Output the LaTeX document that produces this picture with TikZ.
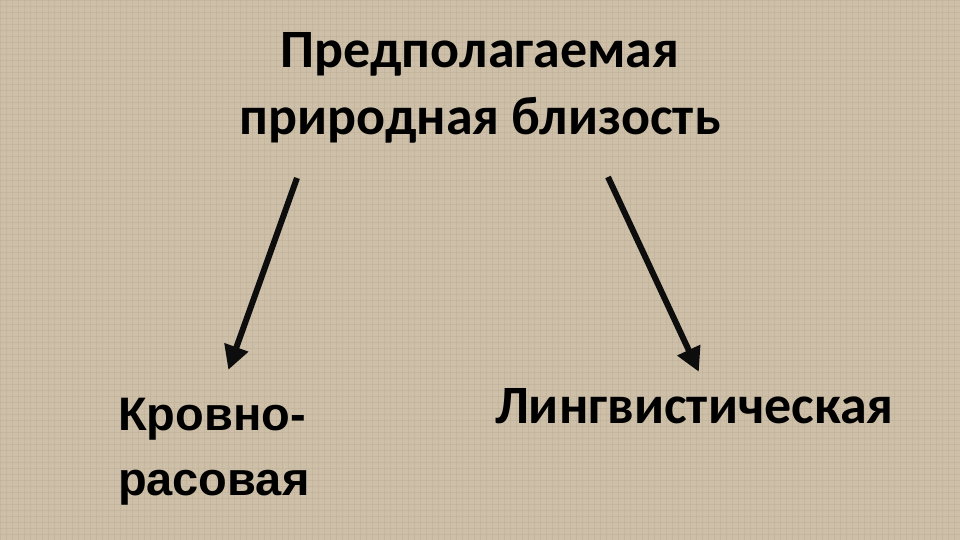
\documentclass[tikz,border=0pt]{standalone}
\usepackage{fontspec}
\setmainfont{Carlito}
\newfontfamily\arialfont{Liberation Sans}
\usetikzlibrary{arrows.meta}
\definecolor{bgbeige}{HTML}{CDBFA8}
\definecolor{gridbeige}{HTML}{BFB098}
\tikzset{
  lbl/.style={inner sep=0pt, outer sep=0pt, text=black, font=\bfseries},
  conn/.style={line width=6pt, draw=black!95,
    -{Triangle[length=24pt,width=24pt]}, shorten >=-2pt},
}
\begin{document}
\begin{tikzpicture}[x=1pt,y=-1pt]
\useasboundingbox (0,0) rectangle (960,540);
\fill[bgbeige] (0,0) rectangle (960,540);
\foreach \i in {0,6,...,960} {\draw[gridbeige, line width=0.5pt, opacity=0.5] (\i,0) -- (\i,540);}
\foreach \j in {0,6,...,540} {\draw[gridbeige, line width=0.5pt, opacity=0.5] (0,\j) -- (960,\j);}
\node[lbl, font=\bfseries\fontsize{54}{67}\selectfont, align=center, anchor=base] (title) at (480,135)
  {Предполагаемая\\природная близость};
\node[lbl, font=\arialfont\bfseries\fontsize{47}{65}\selectfont, align=left, anchor=base west] (left) at (118,495)
  {Кровно-\\расовая};
\node[lbl, font=\bfseries\fontsize{54}{60}\selectfont, anchor=base west] (right) at (495,423)
  {Лингвистическая};
\coordinate (a1s) at (297,178);
\coordinate (a1e) at (229,368);
\coordinate (a2s) at (608,177);
\coordinate (a2e) at (698,370);
\draw[conn] (a1s) -- (a1e);
\draw[conn] (a2s) -- (a2e);
\end{tikzpicture}
\end{document}
